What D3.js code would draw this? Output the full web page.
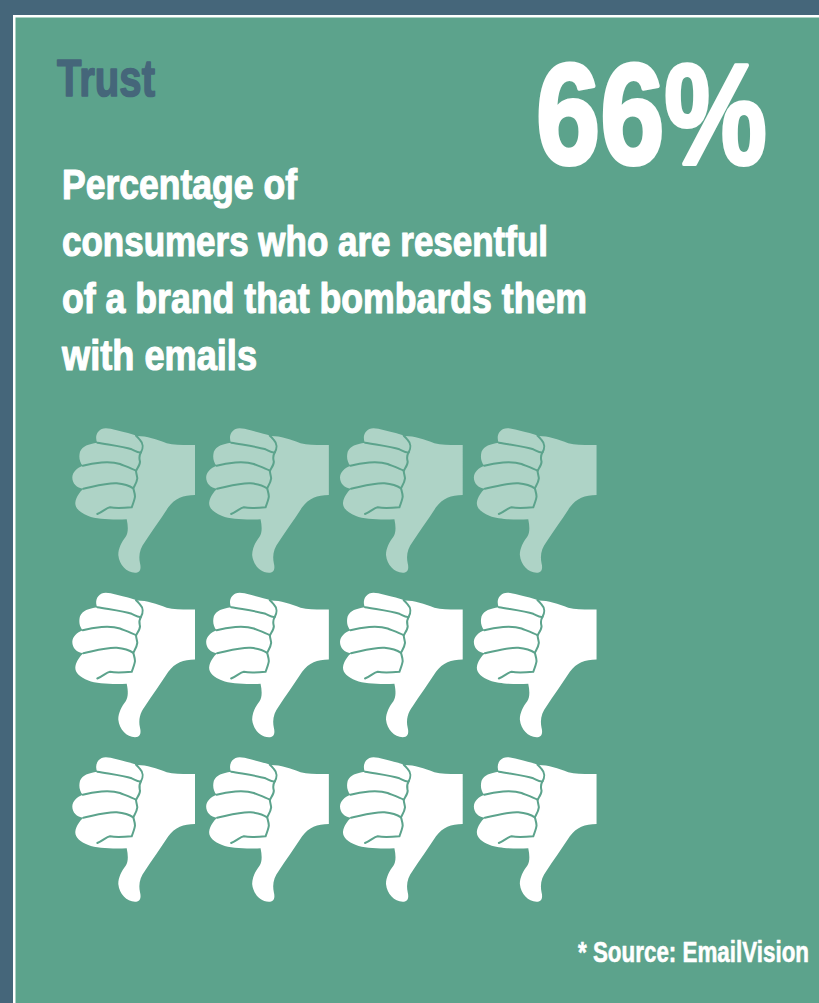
<!DOCTYPE html>
<html>
<head>
<meta charset="utf-8">
<script src="https://cdnjs.cloudflare.com/ajax/libs/d3/7.8.5/d3.min.js"></script>
<style>
html,body{margin:0;padding:0;background:#45667a;overflow:hidden}
text{font-family:"Liberation Sans Narrow","Liberation Sans",sans-serif;font-weight:700;stroke-linejoin:round;paint-order:stroke}
</style>
</head>
<body>
<svg id="chart" width="819" height="1003"></svg>
<script>
// Headline figures and copy
const sectionTitle = "Trust";
const shareLabel = "66%";
const sharePercent = 66;
const descriptionLines = [
  "Percentage of",
  "consumers who are resentful",
  "of a brand that bombards them",
  "with emails"
];
const descriptionWidths = [235, 486, 525, 195];
const sourceNote = "* Source: EmailVision";

// Pictogram grid: rows top to bottom, columns left to right
const gridRows = [0, 1, 2];
const gridColumns = [0, 1, 2, 3];

const colors = {
  frame: "#45667a",
  panel: "#5ca38c",
  rule: "#ffffff",
  active: "#ffffff",
  muted: "#aed3c6",
  title: "#45667a"
};

const svg = d3.select("#chart");
svg.append("rect").attr("width", 819).attr("height", 1003).attr("fill", colors.frame);
svg.append("rect").attr("x", 13).attr("y", 15).attr("width", 806).attr("height", 988).attr("fill", colors.rule);
svg.append("rect").attr("x", 15.5).attr("y", 17.5).attr("width", 804).attr("height", 986).attr("fill", colors.panel);

// Fits a text run to a measured width; the outline thickens the strokes to a heavy condensed weight
function label(parent, str, x, y, size, width, fill, weight) {
  return parent.append("text")
    .attr("x", x).attr("y", y)
    .attr("font-size", size)
    .attr("textLength", width)
    .attr("lengthAdjust", "spacingAndGlyphs")
    .attr("fill", fill)
    .attr("stroke", fill)
    .attr("stroke-width", weight)
    .text(str);
}

label(svg, sectionTitle, 57, 95.5, 52, 98, colors.title, 1.6);
label(svg, shareLabel, 536, 164, 142, 231, colors.active, 4);

const lineY = d3.scalePoint().domain(d3.range(descriptionLines.length)).range([199, 370]);
descriptionLines.forEach((line, i) => {
  label(svg, line, 62, lineY(i), 43, descriptionWidths[i], colors.active, 1.2);
});

label(svg, sourceNote, 578, 962, 29, 231, colors.active, 0.6);

// Thumbs-down glyph, drawn in a 150x160 box
const handOutline =
  "M135,25 L135,75 C123.3,75 115,78.3 108.3,87.3 C100,100 91.7,111.7 85,121.7 " +
  "C80,128.3 78.3,135 80,143.3 C81.7,150 79.3,152.7 75,152.7 C66.7,152.7 59.3,145 58.3,135 " +
  "C58.3,128.3 61.7,121.7 65.7,116.7 C68.3,112.7 68.3,106.7 66.7,99.3 C53.3,100 36.7,99.3 28.3,96 " +
  "C20,92.7 15,88.3 15.3,82.7 C16,76.7 20,71.7 23.3,68.7 C16.7,68.3 12.3,63.3 12.3,57.3 " +
  "C12.7,51.7 16.7,48.3 22.7,45.7 C19.3,41.7 18.7,36.7 20,31.7 C22.7,26 28.3,24 37.3,22.7 " +
  "C35,18.3 36,11.7 41.7,9 C45,7.3 50,8.3 56.7,10.3 C65,12.3 71.7,14 77.3,16 " +
  "C86.7,16 96.7,19.3 106.7,23.3 C115,25.3 126.7,25 135,25 Z";
const knuckleGaps = [
  "M37.3,22.7 C50,25 63.3,26.7 71.7,29.3 C75,30.7 78.3,33.3 81,32.3 C83.3,28.3 83.3,23.3 80,20 C78.7,18.3 77.3,16.7 76,15.7",
  "M81,32.3 C78.3,36.7 79.5,39 80,41.7 C80,45 77.3,48.3 76,51 C76.3,54 77.3,57 77.3,58.3 C77,62 75,65 73.3,68.3 C74,71 75,74 75,76.7 C74.5,80 73,84 71.7,87.3 C60,88.3 55,88.3 50,87.3 C46,88 43.3,91.7 37.3,94",
  "M22.7,45.7 C33.3,42.7 50,40.7 60,44 C65,46 71.7,48.3 76,50.7",
  "M23.3,68.7 C33.3,66.7 46.7,62.7 56.7,63.3 C63.3,64 68.3,65 73.3,68.3"
];

const colX = d3.scaleBand().domain(gridColumns).range([60, 595.4]).paddingInner(0).paddingOuter(0);
const rowY = d3.scalePoint().domain(gridRows).range([420, 749]);

// Cells are lit from the bottom row upward until the share is covered
const cells = gridRows.flatMap(r => gridColumns.map(c => ({ r, c })));
const litCount = Math.round(cells.length * sharePercent / 100);
const mutedCount = cells.length - litCount;

const icons = svg.selectAll("g.thumb")
  .data(cells)
  .join("g")
  .attr("class", "thumb")
  .attr("transform", d => `translate(${colX(d.c)},${rowY(d.r)})`);

icons.append("path")
  .attr("d", handOutline)
  .attr("fill", (d, i) => i < mutedCount ? colors.muted : colors.active);

icons.selectAll("path.gap")
  .data(knuckleGaps)
  .join("path")
  .attr("class", "gap")
  .attr("d", d => d)
  .attr("fill", "none")
  .attr("stroke", colors.panel)
  .attr("stroke-width", 2)
  .attr("stroke-linecap", "round");
</script>
</body>
</html>
